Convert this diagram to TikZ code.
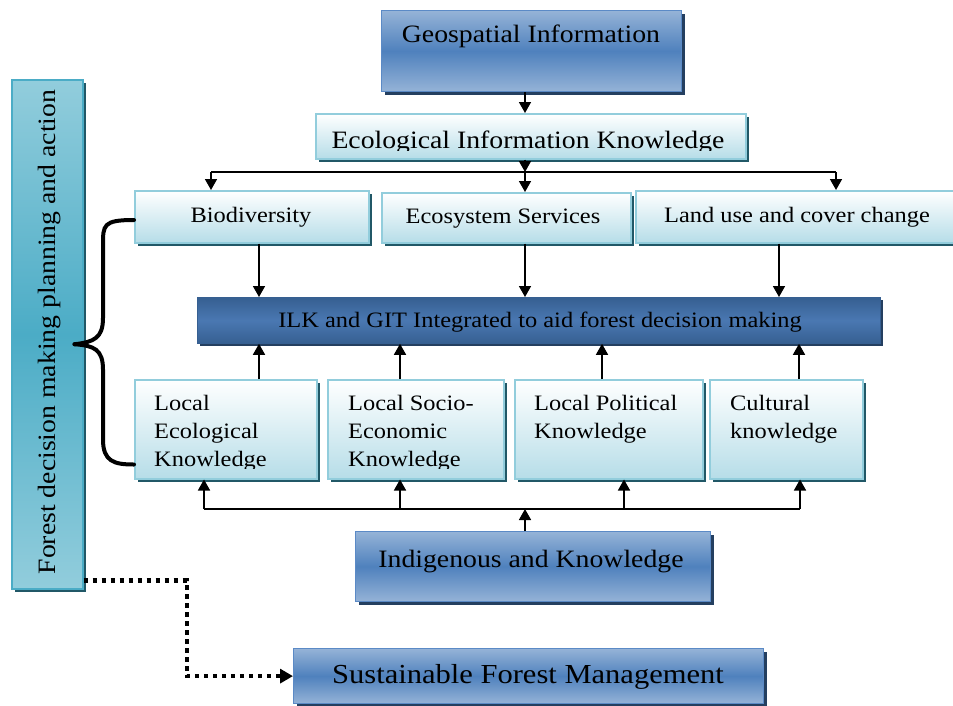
\documentclass[tikz,border=0pt]{standalone}
\usepackage{fontspec}
\setmainfont[FakeStretch=1.11]{Liberation Serif}
\usetikzlibrary{arrows.meta,shadows,calc}
\definecolor{bbord}{HTML}{5B8AC6}
\definecolor{blite}{HTML}{95B3D7}
\definecolor{bmid}{HTML}{4F81BD}
\definecolor{bshad}{HTML}{243F60}
\definecolor{lbord}{HTML}{92CDDC}
\definecolor{lbot}{HTML}{B6DDE8}
\definecolor{lshad}{HTML}{215867}
\definecolor{ilkdark}{HTML}{365F91}
\definecolor{ilkmid}{HTML}{4A78B2}
\definecolor{tealmid}{HTML}{4BACC6}
\tikzset{
  bluebox/.style={draw=bbord, line width=1.2pt, top color=blite, bottom color=blite, middle color=bmid,
    general shadow={fill=bshad, shadow xshift=3pt, shadow yshift=-3pt}, inner sep=0pt, anchor=north west},
  lightbox/.style={draw=lbord, line width=1.5pt, top color=white, bottom color=lbot,
    general shadow={fill=lshad, shadow xshift=3pt, shadow yshift=-3pt}, inner sep=0pt, anchor=north west},
  ilkbox/.style={draw=ilkdark, line width=0.8pt, top color=ilkdark, bottom color=ilkdark, middle color=ilkmid,
    general shadow={fill=bshad, shadow xshift=3pt, shadow yshift=-3pt}, inner sep=0pt, anchor=north west},
  tealbox/.style={draw=tealmid, line width=1.5pt, top color=lbord, bottom color=lbord, middle color=tealmid,
    general shadow={fill=lshad, shadow xshift=3pt, shadow yshift=-3pt}, inner sep=0pt, anchor=north west},
  txt/.style={inner sep=0pt, text=black},
  big/.style={font=\fontsize{25}{29}\selectfont},
  mid/.style={font=\fontsize{22}{28}\selectfont},
  conn/.style={-{Triangle[length=11pt,width=12pt]}, line width=1.6pt},
  busline/.style={line width=1.6pt},
}
\begin{document}
\begin{tikzpicture}[x=1pt,y=-1pt]
\useasboundingbox (0,0) rectangle (953,705);
% boxes
\node[tealbox, minimum width=71pt, minimum height=509pt] (fdm) at (11,79) {};
\node[bluebox, minimum width=300pt, minimum height=81pt] (geo) at (381,10) {};
\node[lightbox, minimum width=430pt, minimum height=45pt] (eik) at (315,113) {};
\node[lightbox, minimum width=234pt, minimum height=52pt] (bio) at (134,190) {};
\node[lightbox, minimum width=249pt, minimum height=50pt] (ess) at (381,192) {};
\node[lightbox, minimum width=330pt, minimum height=52pt] (luc) at (635,190) {};
\node[ilkbox, minimum width=683pt, minimum height=46pt] (ilk) at (197,297) {};
\node[lightbox, minimum width=182pt, minimum height=99pt] (lek) at (134,379) {};
\node[lightbox, minimum width=176pt, minimum height=99pt] (lse) at (327,379) {};
\node[lightbox, minimum width=188pt, minimum height=99pt] (lpk) at (514,379) {};
\node[lightbox, minimum width=153pt, minimum height=99pt] (cul) at (709,379) {};
\node[bluebox, minimum width=355pt, minimum height=70pt] (ind) at (355,531) {};
\node[bluebox, minimum width=470pt, minimum height=55pt] (sfm) at (293,648) {};
% texts
\node[txt, big, anchor=base] (tgeo) at (531,42) {Geospatial Information};
\begin{scope}
\clip (eik.north west) rectangle ($(eik.east)+(0,14.5)$);
\node[txt, big, anchor=base] (teik) at (528,148) {Ecological Information Knowledge};
\end{scope}
\node[txt, mid, anchor=base] (tbio) at (251,222) {Biodiversity};
\node[txt, mid, anchor=base] (tess) at (503,223) {Ecosystem Services};
\node[txt, mid, anchor=base] (tluc) at (797,222) {Land use and cover change};
\node[txt, mid, anchor=base] (tilk) at (540,327) {ILK and GIT Integrated to aid forest decision making};
\begin{scope}
\clip (lek.north west) rectangle (503,468);
\node[txt, mid, anchor=base west] (tlek1) at (154,410) {Local};
\node[txt, mid, anchor=base west] (tlek2) at (154,438) {Ecological};
\node[txt, mid, anchor=base west] (tlek3) at (154,466) {Knowledge};
\node[txt, mid, anchor=base west] (tlse1) at (348,410) {Local Socio-};
\node[txt, mid, anchor=base west] (tlse2) at (348,438) {Economic};
\node[txt, mid, anchor=base west] (tlse3) at (348,466) {Knowledge};
\end{scope}
\node[txt, mid, anchor=base west] (tlpk1) at (534,410) {Local Political};
\node[txt, mid, anchor=base west] (tlpk2) at (534,438) {Knowledge};
\node[txt, mid, anchor=base west] (tcul1) at (730,410) {Cultural};
\node[txt, mid, anchor=base west] (tcul2) at (730,438) {knowledge};
\node[txt, big, anchor=base] (tind) at (531,567) {Indigenous and Knowledge};
\node[txt, font=\fontsize{27.5}{31}\selectfont, anchor=base] (tsfm) at (528,683) {Sustainable Forest Management};
\node[txt, font=\fontsize{25}{29}\selectfont, rotate=90, anchor=base] (tfdm) at (55,332) {Forest decision making planning and action};
% coordinates
\coordinate (tb) at (525,172);
\coordinate (bl) at (211,172);
\coordinate (br) at (836,172);
\coordinate (xa) at (259,0);
\coordinate (xb) at (525,0);
\coordinate (xc) at (779,0);
\coordinate (ua) at (259,0);
\coordinate (ub) at (400,0);
\coordinate (uc) at (602,0);
\coordinate (ud) at (799,0);
\coordinate (bb) at (525,509);
\coordinate (b1) at (204,509);
\coordinate (b2) at (400,509);
\coordinate (b3) at (624,509);
\coordinate (b4) at (800,509);
% top connectors
\draw[conn] (geo.south -| tb) -- (eik.north -| tb);
\draw[conn] (eik.south -| tb) -- (tb);
\draw[busline] (bl) -- (br);
\draw[conn] (bl) -- (bl |- bio.north);
\draw[conn] (tb) -- (tb |- ess.north);
\draw[conn] (br) -- (br |- luc.north);
% to ILK
\draw[conn] (xa |- bio.south) -- (xa |- ilk.north);
\draw[conn] (xb |- ess.south) -- (xb |- ilk.north);
\draw[conn] (xc |- luc.south) -- (xc |- ilk.north);
% up from bottom row
\draw[conn] (ua |- lek.north) -- (ua |- ilk.south);
\draw[conn] (ub |- lse.north) -- (ub |- ilk.south);
\draw[conn] (uc |- lpk.north) -- (uc |- ilk.south);
\draw[conn] (ud |- cul.north) -- (ud |- ilk.south);
% bottom bus
\draw[busline] (b1) -- (b4);
\draw[conn] (b1) -- (b1 |- lek.south);
\draw[conn] (b2) -- (b2 |- lse.south);
\draw[conn] (b3) -- (b3 |- lpk.south);
\draw[conn] (b4) -- (b4 |- cul.south);
\draw[conn] (ind.north -| bb) -- (bb);
% brace
\draw[line width=4pt, line cap=round] ($(bio.north west)+(0,30)$) .. controls ($(bio.north west)+(-31,30)$) and ($(bio.north west)+(-31,35)$) .. ($(bio.north west)+(-31,55)$)
  -- ($(bio.north west)+(-31,128)$) .. controls ($(bio.north west)+(-31,148)$) and ($(bio.north west)+(-40,152)$) .. ($(fdm.east)+(-9,10)$);
\draw[line width=4pt, line cap=round] ($(fdm.east)+(-9,10)$) .. controls ($(lek.south west)+(-40,-134)$) and ($(lek.south west)+(-31,-130)$) .. ($(lek.south west)+(-31,-110)$)
  -- ($(lek.south west)+(-31,-40)$) .. controls ($(lek.south west)+(-31,-18)$) and ($(lek.south west)+(-20,-15)$) .. ($(lek.south west)+(0,-15)$);
% dotted connector
\coordinate (ds) at ($(fdm.south east)+(0,-9)$);
\coordinate (dk) at (187,0);
\draw[line width=4.5pt, dash pattern=on 4.5pt off 4.5pt, -{Triangle[length=13pt,width=14pt]}]
  (ds) -- (dk |- ds) -- (dk |- sfm.west) -- (sfm.west);
\end{tikzpicture}
\end{document}
